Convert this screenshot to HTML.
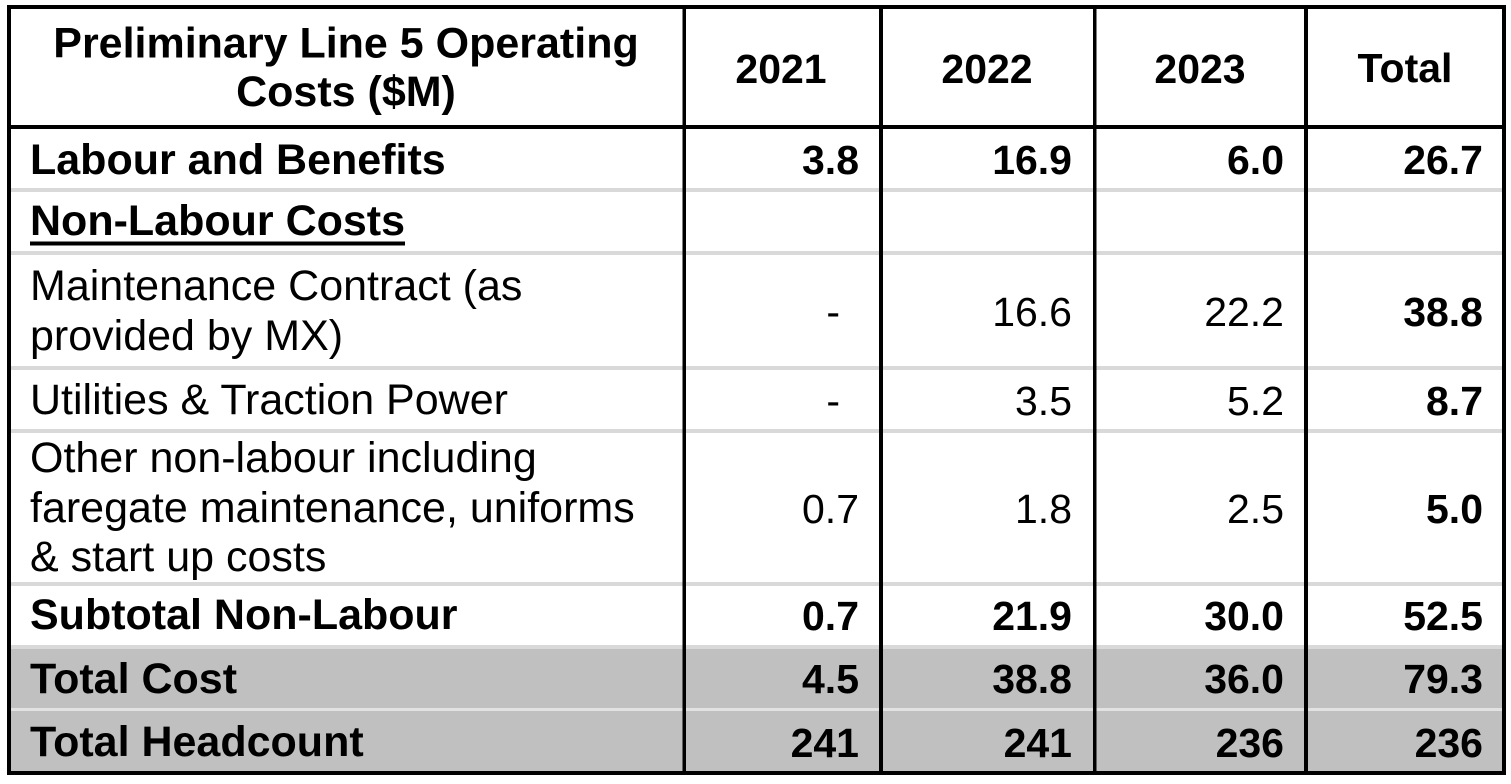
<!DOCTYPE html>
<html>
<head>
<meta charset="utf-8">
<style>
  html, body { margin: 0; padding: 0; background: #fff; }
  body { width: 1511px; height: 784px; overflow: hidden; }
  svg { display: block; }
  text { font-family: "Liberation Sans", Arial, sans-serif; fill: #000; }
  .b { font-weight: bold; }
  .l { font-size: 43px; }
  .n { font-size: 41px; text-anchor: end; }
  .h { font-size: 41px; text-anchor: middle; font-weight: bold; }
</style>
</head>
<body>
<svg width="1511" height="784" viewBox="0 0 1511 784" xmlns="http://www.w3.org/2000/svg">
  <rect x="0" y="0" width="1511" height="784" fill="#ffffff"/>
  <!-- grey total rows -->
  <rect x="9" y="649" width="1495" height="124" fill="#c0c0c0"/>
  <!-- light grey separators -->
  <rect x="9" y="188" width="1495" height="4" fill="#d9d9d9"/>
  <rect x="9" y="251" width="1495" height="4" fill="#d9d9d9"/>
  <rect x="9" y="366" width="1495" height="4" fill="#d9d9d9"/>
  <rect x="9" y="429" width="1495" height="4" fill="#d9d9d9"/>
  <rect x="9" y="582" width="1495" height="4" fill="#d9d9d9"/>
  <rect x="9" y="645" width="1495" height="4" fill="#d9d9d9"/>
  <rect x="9" y="708" width="1495" height="3" fill="#e2e2e2"/>
  <!-- vertical column lines -->
  <rect x="682.5" y="7" width="3.5" height="766" fill="#000"/>
  <rect x="879" y="7" width="4" height="766" fill="#000"/>
  <rect x="1093" y="7" width="3.5" height="766" fill="#000"/>
  <rect x="1304" y="7" width="4" height="766" fill="#000"/>
  <!-- header bottom line -->
  <rect x="7" y="125" width="1499" height="4" fill="#000"/>
  <!-- outer border -->
  <rect x="9" y="7" width="1495" height="766" fill="none" stroke="#000" stroke-width="4"/>

  <!-- header -->
  <text class="b l" x="346" y="57.5" text-anchor="middle">Preliminary Line 5 Operating</text>
  <text class="b l" x="346" y="106" text-anchor="middle">Costs ($M)</text>
  <text class="h" x="781" y="83">2021</text>
  <text class="h" x="987" y="83">2022</text>
  <text class="h" x="1200" y="83">2023</text>
  <text class="h" x="1405" y="82">Total</text>

  <!-- Labour and Benefits -->
  <text class="b l" x="30" y="174">Labour and Benefits</text>
  <text class="b n" x="859" y="174">3.8</text>
  <text class="b n" x="1072" y="174">16.9</text>
  <text class="b n" x="1284" y="174">6.0</text>
  <text class="b n" x="1483" y="174">26.7</text>

  <!-- Non-Labour Costs -->
  <text class="b l" x="30" y="235">Non-Labour Costs</text>
  <rect x="30" y="241.5" width="375" height="4" fill="#000"/>

  <!-- Maintenance Contract -->
  <text class="l" x="30" y="300">Maintenance Contract (as</text>
  <text class="l" x="30" y="350">provided by MX)</text>
  <text class="n" x="840" y="326">-</text>
  <text class="n" x="1072" y="326">16.6</text>
  <text class="n" x="1284" y="326">22.2</text>
  <text class="b n" x="1483" y="326">38.8</text>

  <!-- Utilities -->
  <text class="l" x="30" y="414">Utilities &amp; Traction Power</text>
  <text class="n" x="840" y="415">-</text>
  <text class="n" x="1072" y="415">3.5</text>
  <text class="n" x="1284" y="415">5.2</text>
  <text class="b n" x="1483" y="415">8.7</text>

  <!-- Other -->
  <text class="l" x="30" y="472">Other non-labour including</text>
  <text class="l" x="30" y="522">faregate maintenance, uniforms</text>
  <text class="l" x="30" y="571">&amp; start up costs</text>
  <text class="n" x="859" y="523">0.7</text>
  <text class="n" x="1072" y="523">1.8</text>
  <text class="n" x="1284" y="523">2.5</text>
  <text class="b n" x="1483" y="523">5.0</text>

  <!-- Subtotal -->
  <text class="b l" x="30" y="629">Subtotal Non-Labour</text>
  <text class="b n" x="859" y="630">0.7</text>
  <text class="b n" x="1072" y="630">21.9</text>
  <text class="b n" x="1284" y="630">30.0</text>
  <text class="b n" x="1483" y="630">52.5</text>

  <!-- Total Cost -->
  <text class="b l" x="30" y="693">Total Cost</text>
  <text class="b n" x="859" y="693">4.5</text>
  <text class="b n" x="1072" y="693">38.8</text>
  <text class="b n" x="1284" y="693">36.0</text>
  <text class="b n" x="1483" y="693">79.3</text>

  <!-- Total Headcount -->
  <text class="b l" x="30" y="756">Total Headcount</text>
  <text class="b n" x="859" y="757">241</text>
  <text class="b n" x="1072" y="757">241</text>
  <text class="b n" x="1284" y="757">236</text>
  <text class="b n" x="1483" y="757">236</text>
</svg>
</body>
</html>
